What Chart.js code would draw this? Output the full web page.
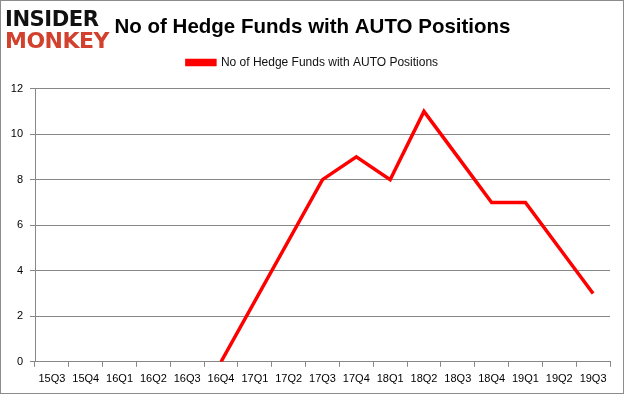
<!DOCTYPE html>
<html>
<head>
<meta charset="utf-8">
<script src="https://cdn.jsdelivr.net/npm/chart.js@4.4.1/dist/chart.umd.min.js"></script>
<style>
  html, body { margin: 0; padding: 0; background: #fff; }
  #wrap { position: relative; width: 625px; height: 395px; overflow: hidden; }
  #frame { position: absolute; left: 0; top: 0; width: 624px; height: 394px; box-sizing: border-box; border: 1px solid #8c8c8c; pointer-events: none; }
  #chart { position: absolute; left: 0; top: 0; }
  .logo { position: absolute; left: 5px; font-family: 'DejaVu Sans', sans-serif; font-weight: bold; font-size: 22px; line-height: 22px; letter-spacing: -0.5px; transform-origin: 0 0; }
  #logo1 { top: 8px; color: #111; transform: scaleX(0.96); }
  #logo2 { top: 30px; color: #d2412d; transform: scaleX(1.0); }
</style>
</head>
<body>
<div id="wrap">
  <canvas id="chart" width="625" height="395"></canvas>
  <div class="logo" id="logo1">INSIDER</div>
  <div class="logo" id="logo2">MONKEY</div>
  <div id="frame"></div>
</div>
<script>
const quarters = ['15Q3', '15Q4', '16Q1', '16Q2', '16Q3', '16Q4', '17Q1', '17Q2', '17Q3',
  '17Q4', '18Q1', '18Q2', '18Q3', '18Q4', '19Q1', '19Q2', '19Q3'];
// empty quarters are skipped; the line runs straight over them like the original
const fundCounts = [null, null, null, null, null, 0, null, null, 8, 9, 8, 11, 9, 7, 7, 5, 3];
const yTicks = [0, 2, 4, 6, 8, 10, 12];
const seriesName = 'No of Hedge Funds with AUTO Positions';
const chartTitle = 'No of Hedge Funds with AUTO Positions';

Chart.defaults.font.family = "'Liberation Sans', Arial, sans-serif";
Chart.defaults.color = '#000';

const gridColor = '#878787';

// a bit more room under the legend
const legendGap = {
  id: 'legendGap',
  beforeInit(chart) {
    const fit = chart.legend.fit;
    chart.legend.fit = function () {
      fit.bind(chart.legend)();
      this.height += 10;
    };
  }
};

new Chart(document.getElementById('chart'), {
  type: 'line',
  data: {
    labels: quarters,
    datasets: [{
      label: seriesName,
      data: fundCounts,
      borderColor: '#ff0000',
      backgroundColor: '#ff0000',
      borderWidth: 3.5,
      pointRadius: 0,
      tension: 0,
      spanGaps: true,
    }]
  },
  plugins: [legendGap],
  options: {
    responsive: false,
    animation: false,
    layout: { padding: { top: 0, right: 0, bottom: 3, left: 0 } },
    plugins: {
      title: {
        display: true,
        text: chartTitle,
        color: '#000',
        font: { size: 20.5, weight: 'bold' },
        padding: { top: 15, bottom: 7 }
      },
      legend: {
        display: true,
        labels: {
          boxWidth: 28,
          boxHeight: 4,
          color: '#111',
          font: { size: 12 },
          padding: 10
        }
      },
      tooltip: { enabled: false }
    },
    scales: {
      x: {
        offset: true,
        grid: { offset: true, drawOnChartArea: false, color: gridColor, tickLength: 5 },
        border: { color: gridColor },
        ticks: { font: { size: 11 }, padding: 6, maxRotation: 0, autoSkip: false }
      },
      y: {
        min: 0,
        max: 12,
        afterBuildTicks: (scale) => { scale.ticks = yTicks.map((v) => ({ value: v })); },
        grid: { color: gridColor, tickLength: 5 },
        border: { color: gridColor },
        ticks: { font: { size: 11 }, padding: 7 },
        afterFit: (scale) => { scale.width = 35; }
      },
      // empty spacer on the right so the plot stops short of the frame
      spacer: {
        type: 'linear',
        position: 'right',
        grid: { display: false },
        border: { display: false },
        ticks: { display: false },
        afterFit: (scale) => { scale.width = 15; }
      }
    }
  }
});
</script>
</body>
</html>
